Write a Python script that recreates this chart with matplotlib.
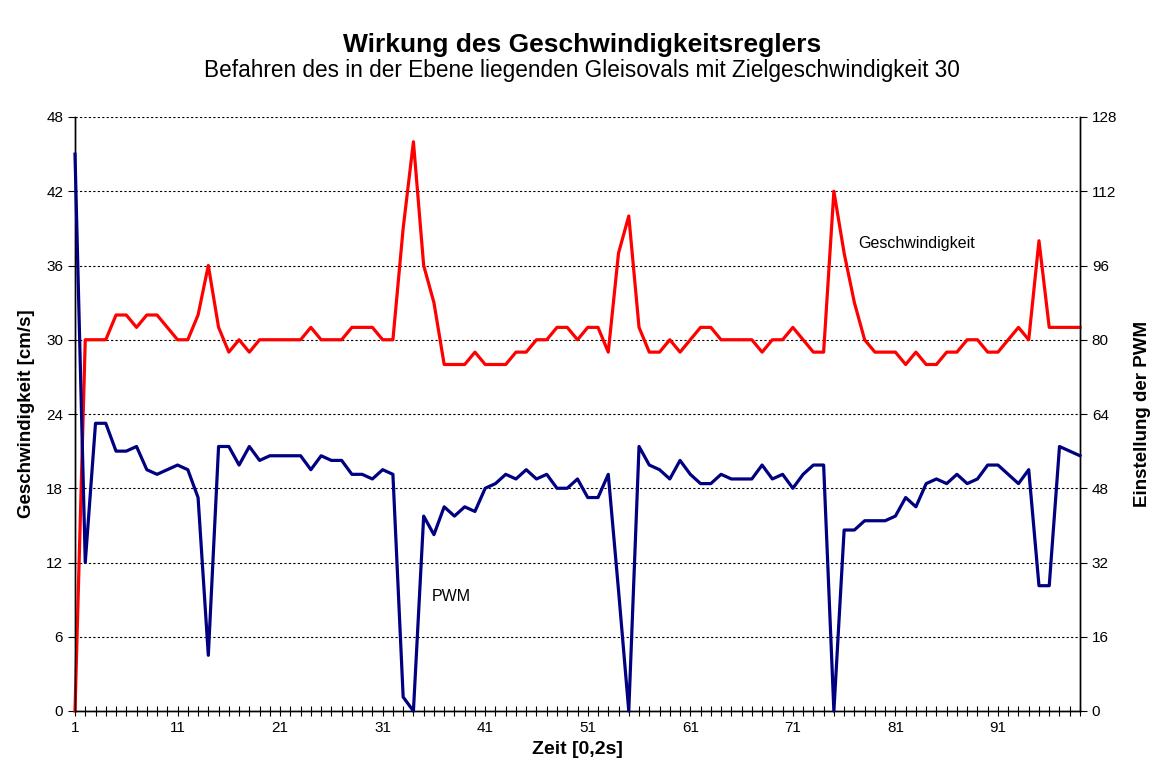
import matplotlib
matplotlib.use('Agg')
import matplotlib.pyplot as plt

plt.rcParams['font.family'] = ['Liberation Sans', 'DejaVu Sans']

time_steps = list(range(1, 100))
speed = [0, 30, 30, 30, 32, 32, 31, 32, 32, 31, 30, 30, 32, 36, 31, 29, 30, 29, 30, 30,
         30, 30, 30, 31, 30, 30, 30, 31, 31, 31, 30, 30, 39, 46, 36, 33, 28, 28, 28, 29,
         28, 28, 28, 29, 29, 30, 30, 31, 31, 30, 31, 31, 29, 37, 40, 31, 29, 29, 30, 29,
         30, 31, 31, 30, 30, 30, 30, 29, 30, 30, 31, 30, 29, 29, 42, 37, 33, 30, 29, 29,
         29, 28, 29, 28, 28, 29, 29, 30, 30, 29, 29, 30, 31, 30, 38, 31, 31, 31, 31]
pwm = [120, 32, 62, 62, 56, 56, 57, 52, 51, 52, 53, 52, 46, 12, 57, 57, 53, 57, 54, 55,
       55, 55, 55, 52, 55, 54, 54, 51, 51, 50, 52, 51, 3, 0, 42, 38, 44, 42, 44, 43,
       48, 49, 51, 50, 52, 50, 51, 48, 48, 50, 46, 46, 51, 26, 0, 57, 53, 52, 50, 54,
       51, 49, 49, 51, 50, 50, 50, 53, 50, 51, 48, 51, 53, 53, 0, 39, 39, 41, 41, 41,
       42, 46, 44, 49, 50, 49, 51, 49, 50, 53, 53, 51, 49, 52, 27, 27, 57, 56, 55]
left_ticks = [0, 6, 12, 18, 24, 30, 36, 42, 48]
right_ticks = [0, 16, 32, 48, 64, 80, 96, 112, 128]
x_labels = [1, 11, 21, 31, 41, 51, 61, 71, 81, 91]

W, H = 1155, 776
fig = plt.figure(figsize=(W / 100, H / 100), dpi=100)
L, R, T, B = 75, 1080, 117, 711
ax = fig.add_axes([L / W, 1 - B / H, (R - L) / W, (B - T) / H])
ax2 = ax.twinx()

ax.plot(time_steps, speed, color='#FF0000', lw=2.3, clip_on=False, zorder=3)
ax2.plot(time_steps, pwm, color='#000080', lw=2.3, clip_on=False, zorder=3)

ax.set_xlim(1, 99)
ax.set_ylim(0, 48)
ax2.set_ylim(0, 128)
ax.set_yticks(left_ticks)
ax2.set_yticks(right_ticks)
ax.set_xticks(time_steps)
ax.set_xticklabels([str(t) if t in x_labels else '' for t in time_steps])

ax.yaxis.grid(True, linestyle=(0, (2, 2)), color='black', lw=0.8)
ax.set_axisbelow(True)

for a in (ax, ax2):
    a.spines['top'].set_visible(False)
    for s in ('left', 'right', 'bottom'):
        a.spines[s].set_linewidth(1.0)
ax.tick_params(axis='x', direction='inout', length=7, width=0.8, labelsize=11, pad=4)
ax.tick_params(axis='y', direction='out', length=5, width=0.8, labelsize=11)
ax2.tick_params(axis='y', direction='out', length=5, width=0.8, labelsize=11)

ax.set_xlabel('Zeit [0,2s]', fontsize=14, fontweight='bold', labelpad=4)
ax.set_ylabel('Geschwindigkeit [cm/s]', fontsize=13.5, fontweight='bold', labelpad=8)
ax2.set_ylabel('Einstellung der PWM', fontsize=13.5, fontweight='bold', labelpad=12)

ax.text(77.4, 37.8, 'Geschwindigkeit', fontsize=11.5, va='center', ha='left')
ax.text(35.8, 9.25, 'PWM', fontsize=11.5, va='center', ha='left')

fig.text(582 / W, 1 - 45 / H, 'Wirkung des Geschwindigkeitsreglers', fontsize=19,
         fontweight='bold', ha='center', va='center')
fig.text(582 / W, 1 - 70 / H, 'Befahren des in der Ebene liegenden Gleisovals mit Zielgeschwindigkeit 30',
         fontsize=16.3, ha='center', va='center')

fig.savefig('out.png', dpi=100)
